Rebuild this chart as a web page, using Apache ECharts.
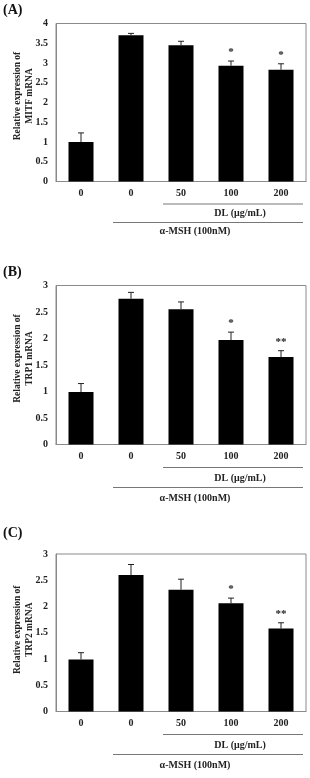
<!DOCTYPE html>
<html>
<head>
<meta charset="utf-8">
<script src="https://cdn.jsdelivr.net/npm/echarts@6/dist/echarts.min.js"></script>
<style>
  html, body { margin: 0; padding: 0; background: #fff; }
  #main { width: 310px; height: 778px; }
</style>
</head>
<body>
<div id="main"></div>
<script>
// 数据
var categories = ['0', '0', '50', '100', '200'];
var yTicks = [[0, 4, 0.5], [0, 3, 0.5], [0, 3, 0.5]];

var mitf = [1.0, 3.70, 3.45, 2.93, 2.83];
var mitfErr = [0.23, 0.05, 0.10, 0.12, 0.15];
var mitfSig = ['', '', '', '*', '*'];

var trp1 = [0.99, 2.75, 2.55, 1.97, 1.65];
var trp1Err = [0.16, 0.12, 0.14, 0.15, 0.12];
var trp1Sig = ['', '', '', '*', '**'];

var trp2 = [0.99, 2.60, 2.32, 2.06, 1.58];
var trp2Err = [0.13, 0.20, 0.20, 0.10, 0.11];
var trp2Sig = ['', '', '', '*', '**'];

var panelNames = ['(A)', '(B)', '(C)'];
var yNames = ['Relative expression of\nMITF mRNA', 'Relative expression of\nTRP1 mRNA', 'Relative expression of\nTRP2 mRNA'];

var FONT = '"Liberation Serif", "Times New Roman", serif';
var panels = [
    { mean: mitf, err: mitfErr, sig: mitfSig },
    { mean: trp1, err: trp1Err, sig: trp1Sig },
    { mean: trp2, err: trp2Err, sig: trp2Sig }
];

// 每个面板的位置
var layout = [
    { top: 23.5, height: 158, label: 3, nameShift: 13 },
    { top: 285.5, height: 159, label: 265, nameShift: 13 },
    { top: 554, height: 157.5, label: 526, nameShift: 6 }
];

var myChart = echarts.init(document.getElementById('main'));

var grid = [], xAxis = [], yAxis = [], series = [], graphic = [];

panels.forEach(function (p, k) {
    var L = layout[k];
    grid.push({
        left: 56, width: 250, top: L.top, height: L.height,
        outerBoundsMode: 'none',
        show: true, borderColor: '#8a8a8a', borderWidth: 1
    });
    xAxis.push({
        type: 'category', gridIndex: k, data: categories,
        axisLine: { lineStyle: { color: '#8a8a8a' } },
        axisTick: { show: false },
        axisLabel: { fontFamily: FONT, fontWeight: 'bold', fontSize: 10, color: '#222', margin: 7 }
    });
    yAxis.push({
        type: 'value', gridIndex: k,
        min: yTicks[k][0], max: yTicks[k][1], interval: yTicks[k][2],
        name: yNames[k], nameLocation: 'middle', nameRotate: 90, nameGap: 20,
        nameMoveOverlap: false,
        nameTextStyle: {
            fontFamily: FONT, fontWeight: 'bold', fontSize: 9.5, color: '#222', lineHeight: 12,
            padding: [0, 0, 0, L.nameShift]
        },
        axisLine: { show: true, lineStyle: { color: '#8a8a8a' } },
        axisTick: { show: false },
        splitLine: { show: false },
        axisLabel: { fontFamily: FONT, fontWeight: 'bold', fontSize: 10, color: '#222', margin: 8 }
    });
    // 柱子
    series.push({
        type: 'bar', xAxisIndex: k, yAxisIndex: k,
        data: p.mean, barWidth: '50%',
        itemStyle: { color: '#000' }
    });
    // 误差线 + 星号
    series.push({
        type: 'custom', xAxisIndex: k, yAxisIndex: k, z: 3,
        data: p.mean.map(function (m, i) { return [i, m, m + p.err[i]]; }),
        encode: { x: 0, y: [1, 2] },
        renderItem: function (params, api) {
            var lo = api.coord([api.value(0), api.value(1)]);
            var hi = api.coord([api.value(0), api.value(2)]);
            var s = { stroke: '#222', lineWidth: 1 };
            var children = [
                { type: 'line', shape: { x1: lo[0], y1: lo[1], x2: hi[0], y2: hi[1] }, style: s },
                { type: 'line', shape: { x1: hi[0] - 3, y1: hi[1], x2: hi[0] + 3, y2: hi[1] }, style: s }
            ];
            var sg = p.sig[params.dataIndex];
            if (sg) {
                children.push({
                    type: 'text',
                    style: {
                        text: sg, x: hi[0], y: hi[1] - 3,
                        align: 'center', verticalAlign: 'bottom',
                        font: 'bold 11px ' + FONT, fill: '#222'
                    }
                });
            }
            return { type: 'group', children: children };
        }
    });

    var b = L.top + L.height;
    var off = k === 0 ? [22.5, 32, 41, 50] : [23, 34, 43, 54];
    graphic.push(
        { type: 'text', left: 3, top: L.label,
          style: { text: panelNames[k], font: 'bold 14px ' + FONT, fill: '#111' } },
        { type: 'line', shape: { x1: 163, y1: b + off[0], x2: 303, y2: b + off[0] },
          style: { stroke: '#777', lineWidth: 1 } },
        { type: 'text', x: 240, y: b + off[1],
          style: { text: 'DL (μg/mL)', font: 'bold 10px ' + FONT, fill: '#222', align: 'center', verticalAlign: 'middle' } },
        { type: 'line', shape: { x1: 113, y1: b + off[2], x2: 303, y2: b + off[2] },
          style: { stroke: '#777', lineWidth: 1 } },
        { type: 'text', x: 195, y: b + off[3],
          style: { text: 'α-MSH (100nM)', font: 'bold 10px ' + FONT, fill: '#222', align: 'center', verticalAlign: 'middle' } }
    );
});

var option = {
    backgroundColor: '#fff',
    animation: false,
    grid: grid,
    xAxis: xAxis,
    yAxis: yAxis,
    series: series,
    graphic: graphic
};

myChart.setOption(option);
</script>
</body>
</html>
